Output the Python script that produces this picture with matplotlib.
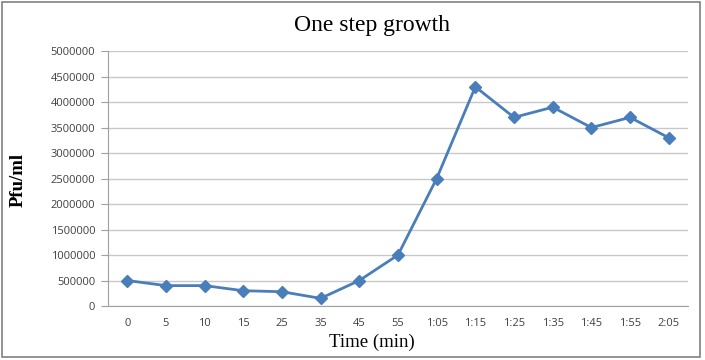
import matplotlib
matplotlib.use("Agg")
import matplotlib.pyplot as plt
from matplotlib.patches import Rectangle

categories = ["0", "5", "10", "15", "25", "35", "45", "55", "1:05", "1:15",
              "1:25", "1:35", "1:45", "1:55", "2:05"]
pfu = [500000, 400000, 400000, 300000, 280000, 150000, 500000, 1000000,
       2500000, 4300000, 3700000, 3900000, 3500000, 3700000, 3300000]
yticks = list(range(0, 5000001, 500000))

fig = plt.figure(figsize=(7.05, 3.6), dpi=100)
ax = fig.add_axes([0.153, 0.15, 0.823, 0.708])

x = list(range(len(categories)))
ax.plot(x, pfu, color="#4a7ebb", lw=2, marker="D", ms=6, zorder=3)
ax.set_xlim(-0.5, len(categories) - 0.5)
ax.set_ylim(0, 5000000)
ax.set_yticks(yticks)
ax.set_yticklabels([str(v) for v in yticks], fontsize=8, family="Open Sans", color="#404040")
ax.set_xticks(x)
ax.set_xticklabels(categories, fontsize=8, family="Open Sans", color="#404040")
ax.tick_params(axis="x", length=0, pad=9)
ax.tick_params(axis="y", length=5, color="#a0a0a0", pad=4)
ax.grid(axis="y", color="#c8c8c8", lw=1)
ax.set_axisbelow(True)
for s in ["top", "right"]:
    ax.spines[s].set_visible(False)
ax.spines["left"].set_color("#a0a0a0")
ax.spines["bottom"].set_color("#a0a0a0")

fig.text(0.527, 0.93, "One step growth", ha="center", va="center",
         family="Liberation Serif", fontsize=17)
fig.text(0.528, 0.05, "Time (min)", ha="center", va="center",
         family="Liberation Serif", fontsize=13.5)
fig.text(0.026, 0.5, "Pfu/ml", ha="center", va="center", rotation=90,
         family="Liberation Serif", fontsize=13.5, fontweight="bold")

fig.patches.append(Rectangle((0.003, 0.008), 0.99, 0.987, transform=fig.transFigure,
                             fill=False, edgecolor="#808080", lw=1.2))
fig.savefig("out.png", dpi=100)
